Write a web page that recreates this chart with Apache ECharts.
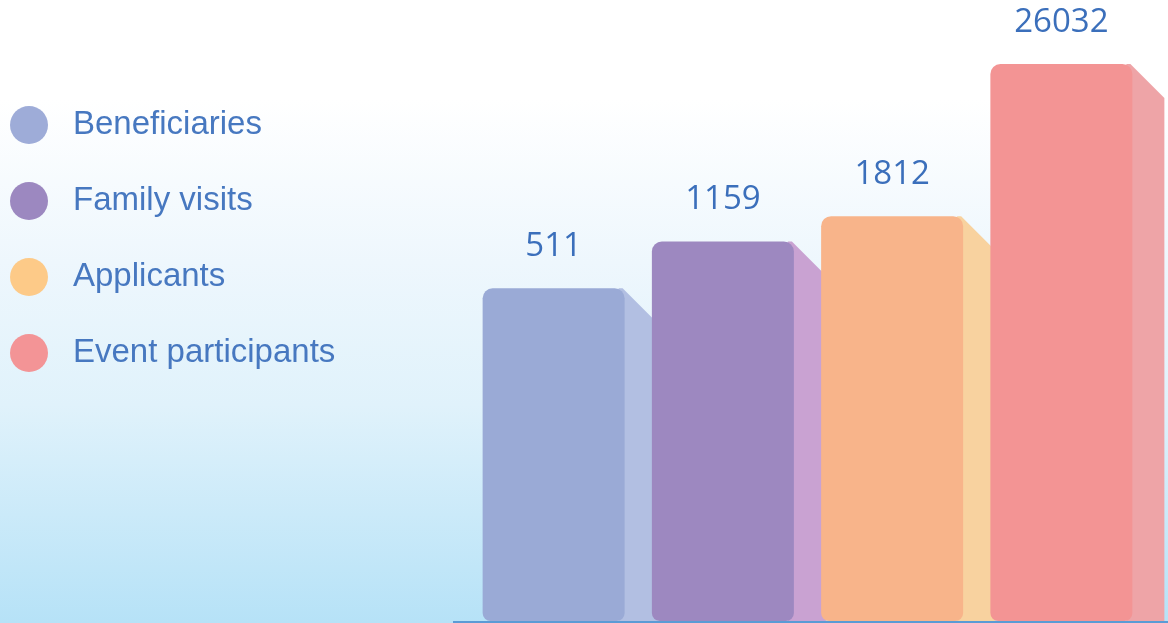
<!DOCTYPE html>
<html>
<head>
<meta charset="utf-8">
<style>
  html, body { margin: 0; padding: 0; }
  #chart { width: 1168px; height: 623px; }
</style>
<script src="https://cdn.jsdelivr.net/npm/echarts@6/dist/echarts.min.js"></script>
</head>
<body>
<div id="chart"></div>
<script>
// Category names and their counts
const categories = ['Beneficiaries', 'Family visits', 'Applicants', 'Event participants'];
const counts = [511, 1159, 1812, 26032];

// Front face, side face and legend dot colours per category
const frontColors = ['#9aaad6', '#9d88c0', '#f8b48a', '#f39494'];
const sideColors = ['#b2bfe2', '#c9a2d2', '#f8d29f', '#eea4a7'];
const dotColors = ['#9eacd8', '#9c88c0', '#fdca88', '#f39496'];

const AXIS_MIN = 1.5;
const FRONT_W = 142;
const DEPTH = 32;

function makeRender(i) {
  return function (params, api) {
    const idx = api.value(0);
    const val = api.value(1);
    const topPt = api.coord([idx, val]);
    const basePt = api.coord([idx, AXIS_MIN]);
    const x0 = topPt[0] - FRONT_W / 2;
    const x1 = x0 + FRONT_W;
    const y0 = topPt[1];
    const y1 = basePt[1];
    return {
      type: 'group',
      children: [
        {
          type: 'polygon',
          shape: { points: [[x1 - 6, y0], [x1 - 2, y0], [x1 + DEPTH, y0 + DEPTH + 2], [x1 + DEPTH, y1], [x1 - 6, y1]] },
          style: { fill: sideColors[i] }
        },
        {
          type: 'rect',
          shape: { x: x0, y: y0, width: FRONT_W, height: y1 - y0, r: [10, 10, 8, 8] },
          style: { fill: frontColors[i] }
        },
        {
          type: 'text',
          x: topPt[0],
          y: y0 - 42,
          style: {
            text: String(val),
            fill: '#3b6fbb',
            font: '33px "Open Sans", sans-serif',
            align: 'center',
            verticalAlign: 'middle'
          }
        }
      ]
    };
  };
}

const series = categories.map((name, i) => ({
  type: 'custom',
  name: name,
  clip: false,
  itemStyle: { color: dotColors[i] },
  encode: { x: 0, y: 1 },
  data: [[i, counts[i]]],
  renderItem: makeRender(i)
}));

const chart = echarts.init(document.getElementById('chart'));
chart.setOption({
  animation: false,
  backgroundColor: {
    type: 'linear', x: 0, y: 0, x2: 0, y2: 1,
    colorStops: [
      { offset: 0, color: '#ffffff' },
      { offset: 0.16, color: '#ffffff' },
      { offset: 0.42, color: '#eef7fd' },
      { offset: 0.65, color: '#e0f2fb' },
      { offset: 1, color: '#b6e2f7' }
    ]
  },
  grid: { left: 469, right: 22, top: 56, bottom: 2 },
  xAxis: {
    type: 'category',
    data: categories,
    show: false
  },
  yAxis: {
    type: 'log',
    logBase: 10,
    min: AXIS_MIN,
    max: 30000,
    show: false
  },
  legend: {
    orient: 'vertical',
    left: 5,
    top: 101,
    icon: 'circle',
    itemWidth: 38,
    itemHeight: 38,
    itemGap: 38,
    selectedMode: false,
    data: categories,
    textStyle: {
      color: '#4778c0',
      fontSize: 33,
      lineHeight: 38,
      fontFamily: '"Liberation Sans", Arial, sans-serif',
      padding: [0, 0, 0, 20]
    }
  },
  graphic: [
    {
      type: 'line',
      z: 100,
      shape: { x1: 453, y1: 622, x2: 1168, y2: 622 },
      style: { stroke: '#5b9bd5', lineWidth: 2 }
    }
  ],
  series: series
});
</script>
</body>
</html>
